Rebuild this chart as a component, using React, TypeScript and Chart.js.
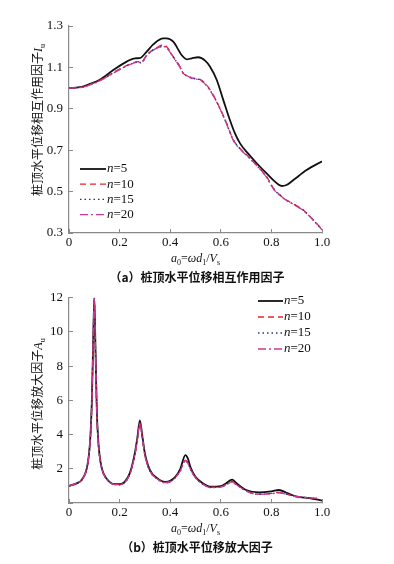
import React, { useEffect, useRef } from "react";
import { Chart, registerables } from "chart.js";

Chart.register(...registerables);

// ---------- Data: (a) interaction factor I_u ----------
const aA5 = [0, 0.05, 0.083, 0.12, 0.175, 0.228, 0.26, 0.28, 0.307, 0.333, 0.373, 0.386, 0.412, 0.445, 0.465, 0.485, 0.511, 0.538, 0.557, 0.584, 0.61, 0.636, 0.656, 0.676, 0.709, 0.742, 0.781, 0.814, 0.84, 0.86, 0.887, 0.939, 1.0];
const iuN5 = [1.0, 1.006, 1.02, 1.039, 1.087, 1.128, 1.144, 1.145, 1.176, 1.211, 1.24, 1.24, 1.224, 1.16, 1.139, 1.144, 1.149, 1.133, 1.104, 1.039, 0.942, 0.846, 0.781, 0.733, 0.682, 0.637, 0.588, 0.548, 0.527, 0.532, 0.556, 0.604, 0.646];
const aAc = [0, 0.05, 0.083, 0.12, 0.2, 0.254, 0.275, 0.285, 0.307, 0.346, 0.373, 0.386, 0.412, 0.439, 0.452, 0.47, 0.485, 0.518, 0.544, 0.57, 0.597, 0.623, 0.65, 0.676, 0.709, 0.742, 0.781, 0.808, 0.834, 0.86, 0.887, 0.926, 0.966, 1.0];
const iuN10 = [1.0, 1.005, 1.017, 1.036, 1.092, 1.123, 1.128, 1.124, 1.16, 1.195, 1.21, 1.2, 1.152, 1.104, 1.071, 1.06, 1.05, 1.042, 1.015, 0.967, 0.902, 0.83, 0.749, 0.709, 0.669, 0.628, 0.572, 0.516, 0.484, 0.459, 0.44, 0.411, 0.363, 0.318];
const iuN15 = [1.0, 1.005, 1.016, 1.035, 1.09, 1.121, 1.127, 1.122, 1.158, 1.193, 1.202, 1.196, 1.15, 1.1, 1.07, 1.058, 1.048, 1.04, 1.012, 0.965, 0.9, 0.828, 0.747, 0.707, 0.667, 0.626, 0.57, 0.514, 0.482, 0.458, 0.439, 0.41, 0.362, 0.316];
const iuN20 = [1.0, 1.004, 1.016, 1.034, 1.089, 1.12, 1.126, 1.121, 1.157, 1.192, 1.2, 1.195, 1.149, 1.099, 1.069, 1.057, 1.047, 1.039, 1.011, 0.964, 0.899, 0.827, 0.746, 0.706, 0.666, 0.625, 0.569, 0.513, 0.481, 0.457, 0.438, 0.409, 0.361, 0.315];

// ---------- Data: (b) amplification factor A_u ----------
const aB5 = [0, 0.03, 0.05, 0.07, 0.08, 0.085, 0.09, 0.095, 0.1, 0.105, 0.11, 0.115, 0.12, 0.13, 0.15, 0.18, 0.2, 0.22, 0.24, 0.26, 0.27, 0.28, 0.29, 0.3, 0.32, 0.35, 0.38, 0.4, 0.42, 0.44, 0.46, 0.47, 0.48, 0.5, 0.53, 0.56, 0.6, 0.62, 0.645, 0.66, 0.7, 0.75, 0.8, 0.83, 0.86, 0.9, 0.95, 1.0];
const auN5 = [1.0, 1.15, 1.35, 2.0, 3.0, 4.0, 5.8, 9.0, 12.0, 8.8, 5.4, 3.8, 2.9, 2.0, 1.4, 1.1, 1.1, 1.24, 1.73, 2.9, 3.8, 4.83, 3.9, 2.9, 1.92, 1.44, 1.24, 1.3, 1.53, 2.0, 2.8, 2.6, 2.1, 1.53, 1.14, 0.95, 0.99, 1.14, 1.37, 1.18, 0.76, 0.62, 0.68, 0.76, 0.6, 0.37, 0.29, 0.14];
const aBc = [0, 0.03, 0.05, 0.07, 0.08, 0.085, 0.09, 0.095, 0.1, 0.105, 0.11, 0.115, 0.12, 0.13, 0.15, 0.18, 0.2, 0.22, 0.24, 0.26, 0.27, 0.28, 0.29, 0.3, 0.32, 0.35, 0.38, 0.4, 0.42, 0.44, 0.46, 0.47, 0.48, 0.5, 0.53, 0.56, 0.6, 0.62, 0.645, 0.66, 0.7, 0.75, 0.8, 0.83, 0.86, 0.9, 0.95, 0.98];
const auN10 = [1.0, 1.15, 1.35, 2.0, 3.0, 4.0, 5.8, 9.0, 11.9, 8.7, 5.3, 3.7, 2.85, 1.98, 1.38, 1.08, 1.08, 1.2, 1.68, 2.8, 3.7, 4.7, 3.8, 2.8, 1.88, 1.4, 1.2, 1.25, 1.5, 1.9, 2.5, 2.35, 2.0, 1.5, 1.1, 0.92, 0.95, 1.07, 1.25, 1.1, 0.72, 0.52, 0.56, 0.62, 0.52, 0.38, 0.32, 0.28];
const auN15 = [1.0, 1.15, 1.35, 2.0, 3.0, 4.0, 5.8, 9.0, 11.9, 8.7, 5.3, 3.7, 2.85, 1.98, 1.38, 1.08, 1.07, 1.2, 1.67, 2.8, 3.7, 4.68, 3.8, 2.8, 1.87, 1.39, 1.19, 1.24, 1.48, 1.88, 2.48, 2.33, 1.98, 1.48, 1.09, 0.91, 0.94, 1.06, 1.24, 1.09, 0.71, 0.51, 0.55, 0.61, 0.51, 0.37, 0.31, 0.27];
const auN20 = [1.0, 1.15, 1.35, 2.0, 3.0, 4.0, 5.8, 9.0, 11.95, 8.7, 5.3, 3.7, 2.85, 1.98, 1.38, 1.08, 1.07, 1.19, 1.67, 2.79, 3.68, 4.67, 3.78, 2.79, 1.87, 1.39, 1.19, 1.24, 1.48, 1.87, 2.47, 2.32, 1.97, 1.47, 1.09, 0.9, 0.93, 1.05, 1.23, 1.08, 0.7, 0.5, 0.54, 0.6, 0.5, 0.37, 0.3, 0.27];

const nLabels = ["5", "10", "15", "20"];
const xTicksA = [0, 0.2, 0.4, 0.6, 0.8, 1.0];

const SERIF = '"Liberation Serif", "DejaVu Serif", serif';
const CJK = '"Noto Sans CJK SC", sans-serif';

const styles = [
  { color: "#111111", dash: [] as number[], width: 1.8, order: 3 },
  { color: "#e5262b", dash: [6, 4], width: 1.3, order: 2 },
  { color: "#26308f", dash: [1.5, 3], width: 1.4, order: 1 },
  { color: "#c8389a", dash: [8, 3, 2, 3], width: 1.3, order: 0 },
];

function toPts(xs: number[], ys: number[]) {
  return xs.map((x, i) => ({ x, y: ys[i] }));
}

const insideLegend = {
  id: "insideLegend",
  afterDraw(chart: any, _args: any, opts: any) {
    const ctx = chart.ctx as CanvasRenderingContext2D;
    ctx.save();
    chart.data.datasets.forEach((ds: any, i: number) => {
      const y = opts.y + i * opts.spacing;
      ctx.beginPath();
      ctx.setLineDash(ds.borderDash || []);
      ctx.strokeStyle = ds.borderColor;
      ctx.lineWidth = ds.borderWidth;
      ctx.moveTo(opts.x, y);
      ctx.lineTo(opts.x + opts.len, y);
      ctx.stroke();
      ctx.setLineDash([]);
      ctx.fillStyle = "#111";
      ctx.textBaseline = "middle";
      ctx.textAlign = "left";
      const tx = opts.x + opts.len + 1;
      ctx.font = `italic 13px ${SERIF}`;
      ctx.fillText("n", tx, y);
      const w = ctx.measureText("n").width;
      ctx.font = `13px ${SERIF}`;
      ctx.fillText("=" + nLabels[i], tx + w, y);
    });
    ctx.restore();
  },
};

function makeDatasets(series: { xs: number[]; ys: number[] }[]) {
  return series.map((s, i) => ({
    label: "n=" + nLabels[i],
    data: toPts(s.xs, s.ys),
    borderColor: styles[i].color,
    borderDash: styles[i].dash,
    borderWidth: styles[i].width,
    order: styles[i].order,
    pointRadius: 0,
    fill: false,
    cubicInterpolationMode: "monotone" as const,
  }));
}

function makeOptions(p: {
  yMin: number; yMax: number; yStep: number; yFmt: (v: number) => string;
  padTop: number; xHeight: number; legend: any;
}) {
  const axisColor = "#8a8a8a";
  return {
    responsive: false,
    animation: false as const,
    layout: { padding: { left: 0, top: p.padTop, right: 72, bottom: 0 } },
    plugins: {
      legend: { display: false },
      tooltip: { enabled: false },
      insideLegend: p.legend,
    },
    scales: {
      x: {
        type: "linear" as const,
        min: 0,
        max: 1,
        afterBuildTicks: (scale: any) => {
          scale.ticks = xTicksA.map((v) => ({ value: v }));
        },
        afterFit: (scale: any) => { scale.height = p.xHeight; },
        border: { display: true, color: axisColor, width: 1.2 },
        grid: { drawOnChartArea: false, drawTicks: true, tickLength: -4, color: axisColor, lineWidth: 1 },
        ticks: {
          padding: 6,
          color: "#111",
          font: { family: SERIF, size: 13 },
          maxRotation: 0,
          callback: (v: any) => (Number(v) === 0 ? "0" : Number(v).toFixed(1)),
        },
      },
      y: {
        type: "linear" as const,
        min: p.yMin,
        max: p.yMax,
        afterFit: (scale: any) => { scale.width = 69; },
        border: { display: true, color: axisColor, width: 1.2 },
        grid: { drawOnChartArea: false, drawTicks: true, tickLength: -4, color: axisColor, lineWidth: 1 },
        ticks: {
          stepSize: p.yStep,
          padding: 10,
          color: "#111",
          font: { family: SERIF, size: 13 },
          callback: (v: any) => p.yFmt(Number(v)),
        },
      },
    },
  };
}

export default function App() {
  const c1 = useRef<HTMLCanvasElement>(null);
  const c2 = useRef<HTMLCanvasElement>(null);

  useEffect(() => {
    const ch1 = new Chart(c1.current!, {
      type: "line",
      data: {
        datasets: makeDatasets([
          { xs: aA5, ys: iuN5 },
          { xs: aAc, ys: iuN10 },
          { xs: aAc, ys: iuN15 },
          { xs: aAc, ys: iuN20 },
        ]),
      },
      options: makeOptions({
        yMin: 0.3, yMax: 1.3, yStep: 0.2,
        yFmt: (v) => v.toFixed(1),
        padTop: 26, xHeight: 47,
        legend: { x: 80, y: 169, spacing: 15.2, len: 26 },
      }) as any,
      plugins: [insideLegend],
    });
    const ch2 = new Chart(c2.current!, {
      type: "line",
      data: {
        datasets: makeDatasets([
          { xs: aB5, ys: auN5 },
          { xs: aBc, ys: auN10 },
          { xs: aBc, ys: auN15 },
          { xs: aBc, ys: auN20 },
        ]),
      },
      options: makeOptions({
        yMin: 0, yMax: 12, yStep: 2,
        yFmt: (v) => (v === 0 ? "" : String(v)),
        padTop: 16.7, xHeight: 61,
        legend: { x: 258, y: 21, spacing: 16, len: 25 },
      }) as any,
      plugins: [insideLegend],
    });
    return () => {
      ch1.destroy();
      ch2.destroy();
    };
  }, []);

  const sub: React.CSSProperties = { fontSize: 8, verticalAlign: "-3px", lineHeight: 0 };
  const xTitle = (top: number) => (
    <div style={{ position: "absolute", left: 69, width: 253, top, textAlign: "center", fontFamily: SERIF, fontSize: 12, lineHeight: "14px", color: "#111", whiteSpace: "nowrap" }}>
      <i>a</i><span style={sub}>0</span>=<i>ωd</i><span style={sub}>1</span>/<i>V</i><span style={sub}>s</span>
    </div>
  );
  const caption = (top: number, text: string) => (
    <div style={{ position: "absolute", left: 0, width: 394, top, textAlign: "center", fontFamily: CJK, fontWeight: 700, fontSize: 12, lineHeight: "14px", color: "#111", whiteSpace: "nowrap" }}>
      {text}
    </div>
  );
  const yTitle = (cx: number, cy: number, text: string, sym: string, s: string) => (
    <div style={{ position: "absolute", left: cx, top: cy, transform: "translate(-50%, -50%) rotate(-90deg)", fontFamily: CJK, fontSize: 12, lineHeight: "14px", color: "#111", whiteSpace: "nowrap" }}>
      {text}
      <i style={{ fontFamily: SERIF }}>{sym}</i>
      <span style={{ ...sub, fontFamily: SERIF }}>{s}</span>
    </div>
  );

  return (
    <div style={{ position: "absolute", left: 0, top: 0, width: 394, height: 564, background: "#fff", overflow: "hidden" }}>
      <canvas ref={c1} width={394} height={280} style={{ position: "absolute", left: 0, top: 0, width: 394, height: 280 }} />
      <canvas ref={c2} width={394} height={284} style={{ position: "absolute", left: 0, top: 280, width: 394, height: 284 }} />
      {xTitle(251)}
      {caption(270, "（a）桩顶水平位移相互作用因子")}
      {yTitle(37, 120, "桩顶水平位移相互作用因子", "I", "u")}
      {xTitle(521)}
      {caption(540, "（b）桩顶水平位移放大因子")}
      {yTitle(37, 404, "桩顶水平位移放大因子", "A", "u")}
    </div>
  );
}
